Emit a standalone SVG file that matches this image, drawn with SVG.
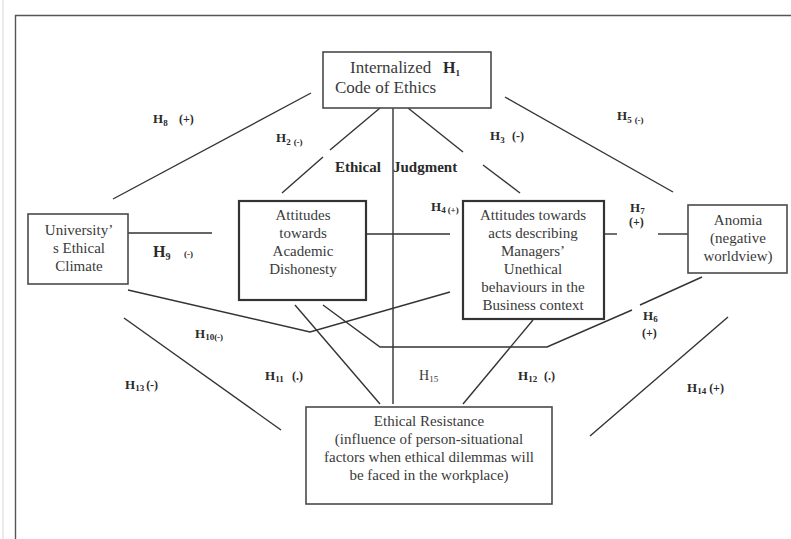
<svg xmlns="http://www.w3.org/2000/svg" width="791" height="539" viewBox="0 0 791 539">
<style>
.box{fill:#fff;stroke:#4a4a4a;stroke-width:1.6}
.box2{fill:#fff;stroke:#333;stroke-width:2.2}
.t{font-family:"Liberation Serif","Times New Roman",serif;font-size:15px;fill:#3a3a3a;text-anchor:middle}
.lb{font-family:"Liberation Serif","Times New Roman",serif;font-weight:bold;font-size:13px;fill:#2a2a2a}
.sub{font-size:9px}
.sm{font-size:9px}
.con line,.con polyline{stroke:#333;stroke-width:1.4;fill:none}
</style>
<rect x="0" y="0" width="791" height="539" fill="#fff"/>
<line x1="3" y1="0" x2="3" y2="539" stroke="#d8d8d8" stroke-width="1"/>
<path d="M15.5 539 V15.5 H800" fill="none" stroke="#555" stroke-width="1.4"/>

<g class="con" id="connectors">
<line x1="113" y1="199" x2="311" y2="93"/>
<line x1="380" y1="108" x2="330" y2="150"/>
<line x1="323" y1="157" x2="282" y2="193"/>
<line x1="393" y1="108" x2="393" y2="404"/>
<line x1="408" y1="108" x2="463" y2="152"/>
<line x1="483" y1="165" x2="520" y2="193"/>
<line x1="505" y1="97" x2="673" y2="192"/>
<line x1="128" y1="233" x2="212" y2="233"/>
<line x1="366" y1="234" x2="450" y2="234"/>
<line x1="604" y1="234" x2="617" y2="234"/>
<line x1="658" y1="234" x2="688" y2="234"/>
<polyline points="128,290 310,332 450,292"/>
<line x1="295" y1="305" x2="380" y2="404"/>
<polyline points="323,305 380,347 547,347 632,310"/>
<line x1="640" y1="305" x2="702" y2="277"/>
<line x1="533" y1="320" x2="463" y2="404"/>
<line x1="124" y1="318" x2="281" y2="430"/>
<line x1="590" y1="436" x2="728" y2="317"/>
</g>

<g id="node-code">
<rect class="box" x="323" y="52" width="168" height="56"/>
<text class="t" style="font-size:17px;text-anchor:start" x="350" y="73">Internalized</text>
<text class="lb" style="font-size:16px" x="443" y="73">H<tspan class="sub" dy="3">1</tspan></text>
<text class="t" style="font-size:17px;text-anchor:start" x="335" y="93">Code of Ethics</text>
</g>

<g id="node-climate">
<rect class="box" x="28" y="214" width="100" height="70"/>
<text class="t" x="79" y="235">University’</text>
<text class="t" x="79" y="253">s Ethical</text>
<text class="t" x="79" y="271">Climate</text>
</g>

<g id="node-academic">
<rect class="box2" x="239" y="201" width="127" height="99"/>
<text class="t" x="303" y="220">Attitudes</text>
<text class="t" x="303" y="238">towards</text>
<text class="t" x="303" y="256">Academic</text>
<text class="t" x="303" y="274">Dishonesty</text>
</g>

<g id="node-managers">
<rect class="box2" x="463" y="201" width="141" height="118"/>
<text class="t" x="533" y="220">Attitudes towards</text>
<text class="t" x="533" y="238">acts describing</text>
<text class="t" x="533" y="256">Managers’</text>
<text class="t" x="533" y="274">Unethical</text>
<text class="t" x="533" y="292">behaviours in the</text>
<text class="t" x="533" y="310">Business context</text>
</g>

<g id="node-anomia">
<rect class="box" x="688" y="205" width="99" height="68"/>
<text class="t" x="738" y="225">Anomia</text>
<text class="t" x="738" y="243">(negative</text>
<text class="t" x="738" y="261">worldview)</text>
</g>

<g id="node-resistance">
<rect class="box" x="306" y="407" width="246" height="97"/>
<text class="t" x="429" y="426">Ethical Resistance</text>
<text class="t" x="429" y="444">(influence of person-situational</text>
<text class="t" x="429" y="462">factors when ethical dilemmas will</text>
<text class="t" x="429" y="480">be faced in the workplace)</text>
</g>

<g id="labels">
<text class="lb" x="153" y="123">H<tspan class="sub" dy="3">8</tspan><tspan dy="-3" x="179" style="font-size:12px">(+)</tspan></text>
<text class="lb" x="276" y="142">H<tspan class="sub" dy="3">2</tspan><tspan class="sm" dx="3">(-)</tspan></text>
<text class="lb" x="490" y="140">H<tspan class="sub" dy="3">3</tspan><tspan dy="-3" x="512" style="font-size:12px">(-)</tspan></text>
<text class="lb" x="617" y="120">H<tspan class="sub" dy="3">5</tspan><tspan class="sm" dx="3">(-)</tspan></text>
<text class="lb" style="font-size:15px" x="335" y="172">Ethical<tspan x="393">Judgment</tspan></text>
<text class="lb" x="431" y="211">H<tspan class="sub" dy="2">4</tspan><tspan class="sm" dx="2">(+)</tspan></text>
<text class="lb" x="630" y="212">H<tspan class="sub" dy="2">7</tspan></text>
<text class="lb" style="font-size:12px" x="629" y="226">(+)</text>
<text class="lb" style="font-size:16px" x="153" y="257">H<tspan class="sub" style="font-size:10px" dy="3">9</tspan><tspan class="sm" dy="-3" x="184">(-)</tspan></text>
<text class="lb" x="643" y="320">H<tspan class="sub" dy="2">6</tspan></text>
<text class="lb" style="font-size:12px" x="642" y="337">(+)</text>
<text class="lb" x="195" y="338">H<tspan class="sub" dy="2">10</tspan><tspan class="sm">(-)</tspan></text>
<text class="lb" x="265" y="380">H<tspan class="sub" dy="2">11</tspan><tspan dy="-2" x="292" style="font-size:12px">(.)</tspan></text>
<text class="t" style="text-anchor:start;font-size:14px" x="419" y="380">H<tspan style="font-size:9px" dy="2">15</tspan></text>
<text class="lb" x="518" y="380">H<tspan class="sub" dy="2">12</tspan><tspan dy="-2" x="544" style="font-size:12px">(.)</tspan></text>
<text class="lb" x="125" y="389">H<tspan class="sub" dy="2">13</tspan><tspan dy="-2" style="font-size:12px" dx="2">(-)</tspan></text>
<text class="lb" x="687" y="392">H<tspan class="sub" dy="2">14</tspan><tspan dy="-2" style="font-size:12px" dx="3">(+)</tspan></text>
</g>
</svg>
